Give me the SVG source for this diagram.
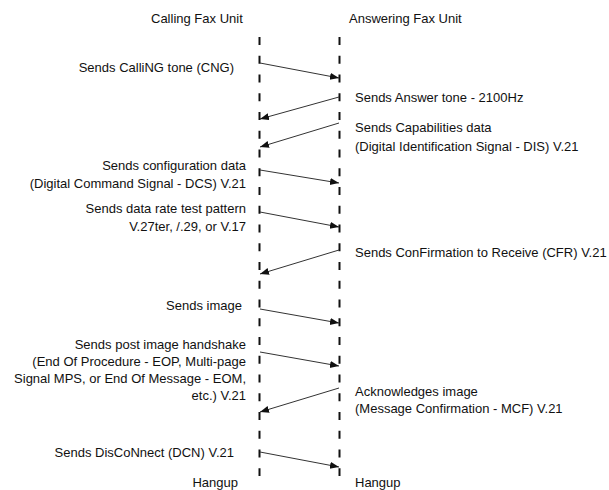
<svg xmlns="http://www.w3.org/2000/svg" width="609" height="490" viewBox="0 0 609 490">
<style>
text{font-family:"Liberation Sans",Arial,sans-serif;font-size:13px;fill:#111}
.l{text-anchor:end}
.life{stroke:#111;stroke-width:2;stroke-dasharray:8 10.75;fill:none}
.msg{stroke:#333;stroke-width:1;fill:none;marker-end:url(#ah)}
</style>
<defs>
<marker id="ah" markerUnits="userSpaceOnUse" markerWidth="10" markerHeight="8" refX="9" refY="3.5" orient="auto">
<path d="M0,0 L9,3.5 L0,7 z" fill="#111"/>
</marker>
</defs>
<rect width="609" height="490" fill="#fff"/>
<g id="calling">
<text x="151" y="23">Calling Fax Unit</text>
<line class="life" x1="259.5" y1="37" x2="259.5" y2="476"/>
<text x="238" y="487" class="l">Hangup</text>
</g>
<g id="answering">
<text x="349" y="23">Answering Fax Unit</text>
<line class="life" x1="339.5" y1="37" x2="339.5" y2="476"/>
<text x="355" y="487">Hangup</text>
</g>
<g id="connectors">
<line class="msg" x1="260" y1="63" x2="339" y2="78"/>
<line class="msg" x1="339" y1="97" x2="260" y2="119"/>
<line class="msg" x1="339" y1="123" x2="260" y2="147"/>
<line class="msg" x1="260" y1="170" x2="339" y2="183"/>
<line class="msg" x1="260" y1="212" x2="339" y2="227"/>
<line class="msg" x1="339" y1="250" x2="260" y2="274"/>
<line class="msg" x1="260" y1="309" x2="339" y2="323"/>
<line class="msg" x1="260" y1="352" x2="339" y2="366"/>
<line class="msg" x1="339" y1="388" x2="260" y2="412"/>
<line class="msg" x1="260" y1="452" x2="339" y2="467"/>
</g>
<g id="cng"><text x="234" y="71.5" class="l">Sends CalliNG tone (CNG)</text></g>
<g id="answer-tone"><text x="355" y="102">Sends Answer tone - 2100Hz</text></g>
<g id="dis">
<text x="355" y="132">Sends Capabilities data</text>
<text x="355" y="151">(Digital Identification Signal - DIS) V.21</text>
</g>
<g id="dcs">
<text x="246" y="170" class="l">Sends configuration data</text>
<text x="246" y="188" class="l">(Digital Command Signal - DCS) V.21</text>
</g>
<g id="training">
<text x="246" y="213" class="l">Sends data rate test pattern</text>
<text x="246" y="231" class="l">V.27ter, /.29, or V.17</text>
</g>
<g id="cfr"><text x="355" y="257">Sends ConFirmation to Receive (CFR) V.21</text></g>
<g id="image"><text x="242" y="310" class="l">Sends image</text></g>
<g id="post-image">
<text x="246" y="349" class="l">Sends post image handshake</text>
<text x="246" y="366" class="l">(End Of Procedure - EOP, Multi-page</text>
<text x="246" y="383" class="l">Signal MPS, or End Of Message - EOM,</text>
<text x="246" y="400" class="l">etc.) V.21</text>
</g>
<g id="mcf">
<text x="355" y="396">Acknowledges image</text>
<text x="355" y="413">(Message Confirmation - MCF) V.21</text>
</g>
<g id="dcn"><text x="234" y="457" class="l">Sends DisCoNnect (DCN) V.21</text></g>
</svg>
